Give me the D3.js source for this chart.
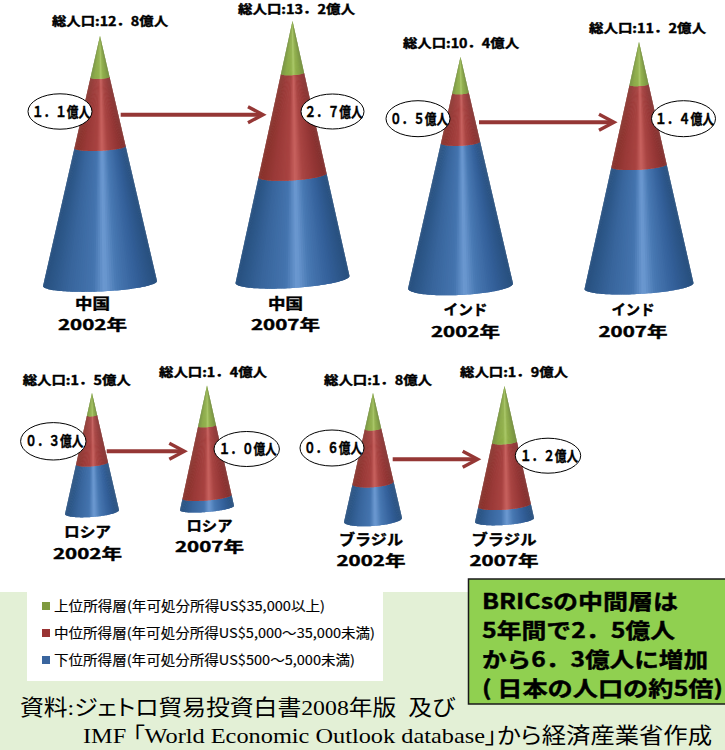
<!DOCTYPE html>
<html lang="ja">
<head>
<meta charset="utf-8">
<script src="https://cdn.jsdelivr.net/npm/d3@7"></script>
<style>
  html, body { margin: 0; padding: 0; background: #fff; }
  svg { display: block; }
  text { font-family: "Noto Sans CJK JP", sans-serif; fill: #000; white-space: pre; }
  .heavy { stroke: #000; stroke-width: 0.4; }
  .legend { stroke: #000; stroke-width: 0.15; }
  .serif { font-family: "Liberation Serif", "Noto Sans CJK JP", serif; font-feature-settings: "palt"; }
</style>
</head>
<body>
<script>
// Population in each income tier (hundred million people), one entry per cone
const countries = ["中国", "中国", "インド", "インド", "ロシア", "ロシア", "ブラジル", "ブラジル"];
const years     = [2002, 2007, 2002, 2007, 2002, 2007, 2002, 2007];
const totalPop  = [12.8, 13.2, 10.4, 11.2, 1.5, 1.4, 1.8, 1.9];
const middlePop = [1.1, 2.7, 0.5, 1.4, 0.3, 1.0, 0.6, 1.2];
const upperPop  = [0.06, 0.11, 0.04, 0.06, 0.01, 0.05, 0.04, 0.14];

const totalLabels  = ["総人口:12．8億人", "総人口:13．2億人", "総人口:10．4億人", "総人口:11．2億人",
                      "総人口:1．5億人", "総人口:1．4億人", "総人口:1．8億人", "総人口:1．9億人"];
const middleLabels = ["１．１億人", "２．７億人", "０．５億人", "１．４億人",
                      "０．３億人", "１．０億人", "０．６億人", "１．２億人"];

const tierNames = ["上位所得層(年可処分所得US$35,000以上)",
                   "中位所得層(年可処分所得US$5,000～35,000未満)",
                   "下位所得層(年可処分所得US$500～5,000未満)"];
const noteLines = ["BRICsの中間層は", "5年間で2．5億人", "から6．3億人に増加", "( 日本の人口の約5倍)"];
const sourceLines = ["資料:ジェトロ貿易投資白書2008年版  及び",
                     "IMF 「World Economic Outlook database」から経済産業省作成"];

// Placement of each cone on the page: apex, base centre, half width, base tilt and ellipse depth
const coneBoxes = [
  { ax: 100, ay: 36, by: 283.5, w: 57, tilt: 2.5, ry: 8 },
  { ax: 292.5, ay: 21, by: 279.5, w: 57, tilt: 3.5, ry: 8.5 },
  { ax: 460.5, ay: 57, by: 286, w: 52.5, tilt: 2.5, ry: 9 },
  { ax: 639, ay: 42, by: 286, w: 54.5, tilt: 3, ry: 8 },
  { ax: 92, ay: 393, by: 512, w: 27, tilt: 2, ry: 5 },
  { ax: 207, ay: 385.5, by: 508, w: 27, tilt: 2.2, ry: 4 },
  { ax: 373, ay: 393, by: 520, w: 29, tilt: 2, ry: 6 },
  { ax: 504.5, ay: 386, by: 520, w: 29.5, tilt: 2, ry: 5 }
];
const bubbles = [
  { cx: 60, cy: 111.5, rx: 32, ry: 17.7, tw: 58 },
  { cx: 332.5, cy: 111.5, rx: 31.5, ry: 17.5, tw: 58 },
  { cx: 418, cy: 118.7, rx: 32, ry: 18, tw: 58 },
  { cx: 683.5, cy: 118.7, rx: 32, ry: 18, tw: 59 },
  { cx: 53.3, cy: 441.3, rx: 32.7, ry: 18.7, tw: 58 },
  { cx: 246.7, cy: 449, rx: 32.7, ry: 17.5, tw: 58 },
  { cx: 332, cy: 448, rx: 32, ry: 18, tw: 58 },
  { cx: 548, cy: 455.7, rx: 32.7, ry: 17.5, tw: 58 }
];
const totalSpots = [
  { x: 110, y: 21, w: 116 }, { x: 296.5, y: 9, w: 117 }, { x: 461, y: 43, w: 116 }, { x: 647.5, y: 28.5, w: 117 },
  { x: 76.7, y: 380, w: 108 }, { x: 213, y: 372, w: 108 }, { x: 378, y: 380, w: 108 }, { x: 514, y: 372, w: 108 }
];
const captionSpots = [
  { x: 92.5, y1: 303.5, y2: 324.5, w: 35 }, { x: 285.5, y1: 303.5, y2: 324.5, w: 35 },
  { x: 465.5, y1: 310, y2: 332, w: 44 }, { x: 633, y1: 310, y2: 332, w: 43 },
  { x: 87.5, y1: 532, y2: 554, w: 47 }, { x: 209.5, y1: 525.5, y2: 546.5, w: 46 },
  { x: 371, y1: 539.5, y2: 561, w: 64 }, { x: 504, y1: 539.5, y2: 561, w: 65 }
];
const arrowSpans = [
  { x0: 120.7, x1: 263, y: 114.7 }, { x0: 479, x1: 614, y: 122.3 },
  { x0: 106.7, x1: 184.3, y: 451.3 }, { x0: 392.7, x1: 477.7, y: 459.3 }
];

// Shading across the visible face of a cone: -1 is the left edge, 1 the right edge
const shadeStops = [-1, -0.55, -0.12, 0.08, 0.3, 0.65, 1];
const tierShades = {
  upper:  ["#6f8c38", "#86a640", "#8fb048", "#a9c765", "#8eae47", "#7f9e3d", "#6c8836"],
  middle: ["#853029", "#9a3a38", "#a84341", "#c8625f", "#a94543", "#963736", "#802e2c"],
  lower:  ["#27507f", "#38659c", "#4474ae", "#6d9ad2", "#4878b2", "#34609a", "#274f7d"]
};
const arrowColor = "#953735";
const swatchColors = ["#7f9a3f", "#993333", "#3a659e"];

const width = 725, height = 750;
const svg = d3.select("body").append("svg").attr("width", width).attr("height", height);

// Cone volume stands for population, so a level along the axis is the cube root of the share above it
const levelOfShare = d3.scalePow().exponent(1 / 3).domain([0, 1]).range([0, 1]);
const line = d3.line();
const facetCount = 72;
// each facet reaches over its right neighbour so no seams show between them
const facets = d3.range(facetCount).map(i => [
  Math.PI * (1 - i / facetCount),
  Math.PI * (1 - Math.min(i + 2, facetCount) / facetCount),
  Math.PI * (1 - (i + 0.5) / facetCount)
]);

// Point on the front half of the cone surface at axis level t and surface angle theta
function surfacePoint(box, t, theta) {
  const s = Math.cos(theta);
  return [
    box.ax + box.w * t * s,
    box.ay + (box.by - box.ay) * t - box.tilt * t * s + box.ry * t * Math.sin(theta)
  ];
}

// Footer panel behind the legend and the source note
svg.append("rect").attr("x", 0).attr("y", 592).attr("width", width).attr("height", height - 592).attr("fill", "#e3f0d6");
svg.append("rect").attr("x", 27).attr("y", 592).attr("width", 356).attr("height", 89).attr("fill", "#ffffff");

// Cones, built from shaded facets for each income tier
const cones = countries.map((c, i) => {
  const upperLevel = levelOfShare(upperPop[i] / totalPop[i]);
  const middleLevel = levelOfShare((upperPop[i] + middlePop[i]) / totalPop[i]);
  return { box: coneBoxes[i], tiers: [
    { key: "upper", t0: 0, t1: upperLevel },
    { key: "middle", t0: upperLevel, t1: middleLevel },
    { key: "lower", t0: middleLevel, t1: 1 }
  ]};
});

cones.forEach(cone => {
  const g = svg.append("g").attr("class", "cone");
  // lower tiers first so each upper tier's front rim sits on top
  cone.tiers.slice().reverse().forEach(tier => {
    const shade = d3.scaleLinear().domain(shadeStops).range(tierShades[tier.key]).interpolate(d3.interpolateRgb);
    g.selectAll(null).data(facets).join("path")
      .attr("d", ([a, b]) => line([
        surfacePoint(cone.box, tier.t0, a), surfacePoint(cone.box, tier.t1, a),
        surfacePoint(cone.box, tier.t1, (a + b) / 2), surfacePoint(cone.box, tier.t1, b),
        surfacePoint(cone.box, tier.t0, b)
      ]) + "Z")
      .attr("fill", d => shade(Math.cos(d[2])));
  });
});

// Arrows between the 2002 and 2007 cones
const arrowHead = { back: 15, half: 8 };
const arrows = svg.append("g").attr("fill", "none").attr("stroke", arrowColor).attr("stroke-width", 4);
arrowSpans.forEach(a => {
  arrows.append("path").attr("d", line([[a.x0, a.y], [a.x1 - 2, a.y]]));
  arrows.append("path").attr("stroke-width", 3.4).attr("d", line([
    [a.x1 - arrowHead.back, a.y - arrowHead.half], [a.x1, a.y], [a.x1 - arrowHead.back, a.y + arrowHead.half]
  ]));
});

// Middle tier call-outs
svg.append("g").selectAll("ellipse").data(bubbles).join("ellipse")
  .attr("cx", d => d.cx).attr("cy", d => d.cy).attr("rx", d => d.rx).attr("ry", d => d.ry)
  .attr("fill", "#fff").attr("stroke", "#000").attr("stroke-width", 1);

function placeText(x, y, str, size, cls, fit, anchor) {
  return svg.append("text")
    .attr("class", cls)
    .attr("x", x).attr("y", y + size * 0.36)
    .attr("text-anchor", anchor || "middle")
    .attr("font-size", size)
    .attr("font-weight", cls === "heavy" ? 700 : 400)
    .attr("textLength", fit).attr("lengthAdjust", "spacingAndGlyphs")
    .text(str);
}

middleLabels.forEach((s, i) => {
  placeText(bubbles[i].cx + 1, bubbles[i].cy, s, 14, "heavy", bubbles[i].tw);
});
totalLabels.forEach((s, i) => {
  placeText(totalSpots[i].x, totalSpots[i].y, s, 12.5, "heavy", totalSpots[i].w);
});

// Country and year captions
const captionSize = 14.4;
countries.forEach((c, i) => {
  const p = captionSpots[i];
  placeText(p.x, p.y1, c, captionSize, "heavy", p.w);
  placeText(p.x, p.y2, years[i] + "年", captionSize, "heavy", 69);
});

// Legend
const legendRows = [606, 633, 660];
const legendWidths = [271, 321, 301];
svg.append("g").selectAll("rect").data(tierNames).join("rect")
  .attr("x", 42).attr("y", (d, i) => legendRows[i] - 4).attr("width", 8).attr("height", 8)
  .attr("fill", (d, i) => swatchColors[i]);
tierNames.forEach((s, i) => {
  placeText(54, legendRows[i], s, 13.5, "legend", legendWidths[i], "start");
});

// Summary box
svg.append("rect").attr("x", 468.5).attr("y", 579).attr("width", 258).attr("height", 125)
  .attr("fill", "#90d050").attr("stroke", "#1a1a1a").attr("stroke-width", 1.5);
const noteRows = [601, 630, 659, 688];
const noteWidths = [196, 193, 226, 241];
noteLines.forEach((s, i) => {
  placeText(482, noteRows[i], s, 21, "heavy", noteWidths[i], "start");
});

// Source note
placeText(20, 707, sourceLines[0], 22, "serif", 435, "start");
placeText(83, 735, sourceLines[1], 22, "serif", 629, "start");
</script>
</body>
</html>
